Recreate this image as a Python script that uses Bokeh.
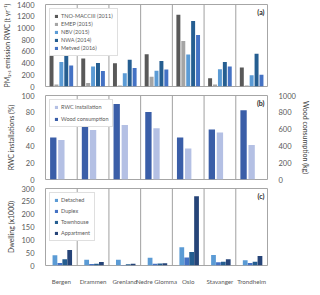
from bokeh.plotting import figure
from bokeh.models import FactorRange, Range1d, LinearAxis, Span, Label, FixedTicker, Legend, LegendItem, ColumnDataSource
from bokeh.transform import dodge
from bokeh.layouts import column
from bokeh.embed import file_html
from bokeh.resources import INLINE

cities = ["Bergen", "Drammen", "Grenland", "Nedre Glomma", "Oslo", "Stavanger", "Trondheim"]

# (a) PM2.5 emission from RWC (t/yr)
tno_macc = [565, 480, 395, 550, 1225, 140, 325]
emep = [35, 60, 15, 165, 775, 35, 15]
nbv = [420, 340, 225, 270, 548, 295, 190]
nwa = [580, 400, 455, 435, 1120, 420, 560]
metved = [360, 265, 315, 290, 878, 340, 200]

# (b) RWC installations (%) and wood consumption (kg)
rwc_installation = [47, 59, 65, 61, 37, 56, 41]
wood_consumption = [500, 750, 900, 805, 500, 595, 825]

# (c) Dwellings (x1000)
detached = [40, 22, 22, 30, 71, 41, 20]
duplex = [10, 6, 2, 7, 31, 13, 10]
townhouse = [24, 7, 5, 8, 53, 15, 15]
appartment = [60, 14, 7, 9, 270, 24, 37]

FONT = "Lato"
TXT = "#595959"
W = 312
LB, RB = 34, 30

src = ColumnDataSource(dict(city=cities, tno=tno_macc, emep=emep, nbv=nbv, nwa=nwa, metved=metved,
                            inst=rwc_installation, wood=wood_consumption,
                            det=detached, dup=duplex, town=townhouse, app=appartment))


def style_axis(ax, size="7.5px"):
    ax.axis_line_color = None
    ax.major_tick_line_color = None
    ax.minor_tick_line_color = None
    ax.major_label_text_font = FONT
    ax.major_label_text_font_size = size
    ax.major_label_text_color = TXT
    ax.major_label_standoff = 5
    ax.axis_label_text_font = FONT
    ax.axis_label_text_font_size = "7px"
    ax.axis_label_text_font_style = "normal"
    ax.axis_label_text_color = "#404040"
    ax.axis_label_standoff = 3


def base(height, ymax, step, bt, bb, show_x=False):
    p = figure(width=W, height=height, x_range=FactorRange(*cities), y_range=Range1d(0, ymax),
               output_backend="svg", toolbar_location=None,
               x_axis_location="below" if show_x else None,
               min_border_left=LB, min_border_right=RB, min_border_top=bt, min_border_bottom=bb)
    p.xgrid.visible = False
    p.ygrid.visible = False
    p.outline_line_color = "#a6a6a6"
    p.outline_line_width = 1
    p.background_fill_color = "white"
    p.border_fill_color = "white"
    ax = p.yaxis[0]
    ax.ticker = FixedTicker(ticks=list(range(0, ymax + 1, step)))
    style_axis(ax)
    for i in range(1, len(cities)):
        p.add_layout(Span(location=i, dimension="height", line_color="#a0a0a0", line_width=1, level="underlay"))
    if show_x:
        xa = p.xaxis[0]
        style_axis(xa, "6.2px")
        xa.major_label_standoff = 6
    return p


def panel_label(p, txt, ymax):
    p.add_layout(Label(x=len(cities), y=ymax, text=txt, x_offset=-3, y_offset=-3,
                       text_align="right", text_baseline="top", text_font=FONT,
                       text_font_size="7px", text_font_style="bold", text_color="#262626"))


def legend(p, items, spacing):
    lg = Legend(items=items, location="top_left", margin=4, padding=4, spacing=spacing,
                label_text_font=FONT, label_text_font_size="5.5px", label_text_color=TXT,
                label_height=5, glyph_height=4, glyph_width=4, label_standoff=3,
                border_line_color="#bfbfbf", border_line_width=1,
                background_fill_color="white", background_fill_alpha=1.0)
    p.add_layout(lg)


# ---- panel a ----
pa = base(90, 1400, 200, 4, 4)
pa.yaxis[0].axis_label = "PM\u2082.\u2085 emission RWC (t yr\u207b\u00b9)"
cols_a = [("tno", "TNO-MACCIII (2011)", "#595959"), ("emep", "EMEP (2015)", "#a5a5a5"),
          ("nbv", "NBV (2015)", "#5b9bd5"), ("nwa", "NWA (2014)", "#255e91"),
          ("metved", "Metved (2016)", "#4472c4")]
items = []
step_a = 0.155
for k, (c, lab, col) in enumerate(cols_a):
    r = pa.vbar(x=dodge("city", (k - 2) * step_a, range=pa.x_range), top=c, width=0.125,
                source=src, fill_color=col, line_color=None)
    items.append(LegendItem(label=lab, renderers=[r]))
legend(pa, items, 2)
panel_label(pa, "(a)", 1400)

# ---- panel b ----
pb = base(93, 100, 20, 5, 4)
pb.yaxis[0].axis_label = "RWC installations (%)"
pb.extra_y_ranges = {"wood": Range1d(0, 1000)}
ra = LinearAxis(y_range_name="wood", axis_label="Wood consumption (kg)",
                ticker=FixedTicker(ticks=list(range(0, 1001, 200))))
style_axis(ra)
pb.add_layout(ra, "right")
rw = pb.vbar(x=dodge("city", -0.255, range=pb.x_range), top="wood", width=0.2, source=src,
             y_range_name="wood", fill_color="#3a5ea8", line_color=None)
ri = pb.vbar(x=dodge("city", 0.0, range=pb.x_range), top="inst", width=0.2, source=src,
             fill_color="#b4c0e4", line_color=None)
legend(pb, [LegendItem(label="RWC installation", renderers=[ri]),
            LegendItem(label="Wood consumption", renderers=[rw])], 6)
panel_label(pb, "(b)", 100)

# ---- panel c ----
pc = base(104, 300, 50, 5, 16, show_x=True)
pc.yaxis[0].axis_label = "Dwelling (x1000)"
cols_c = [("det", "Detached", "#5b9bd5"), ("dup", "Duplex", "#4472c4"),
          ("town", "Townhouse", "#255e91"), ("app", "Appartment", "#264478")]
items = []
step_c = 0.155
for k, (c, lab, col) in enumerate(cols_c):
    r = pc.vbar(x=dodge("city", (k - 1.5) * step_c + 0.03, range=pc.x_range), top=c, width=0.15,
                source=src, fill_color=col, line_color=None)
    items.append(LegendItem(label=lab, renderers=[r]))
legend(pc, items, 5)
panel_label(pc, "(c)", 300)

layout = column(pa, pb, pc, spacing=0)
open("out.html", "w").write(file_html(layout, INLINE))
